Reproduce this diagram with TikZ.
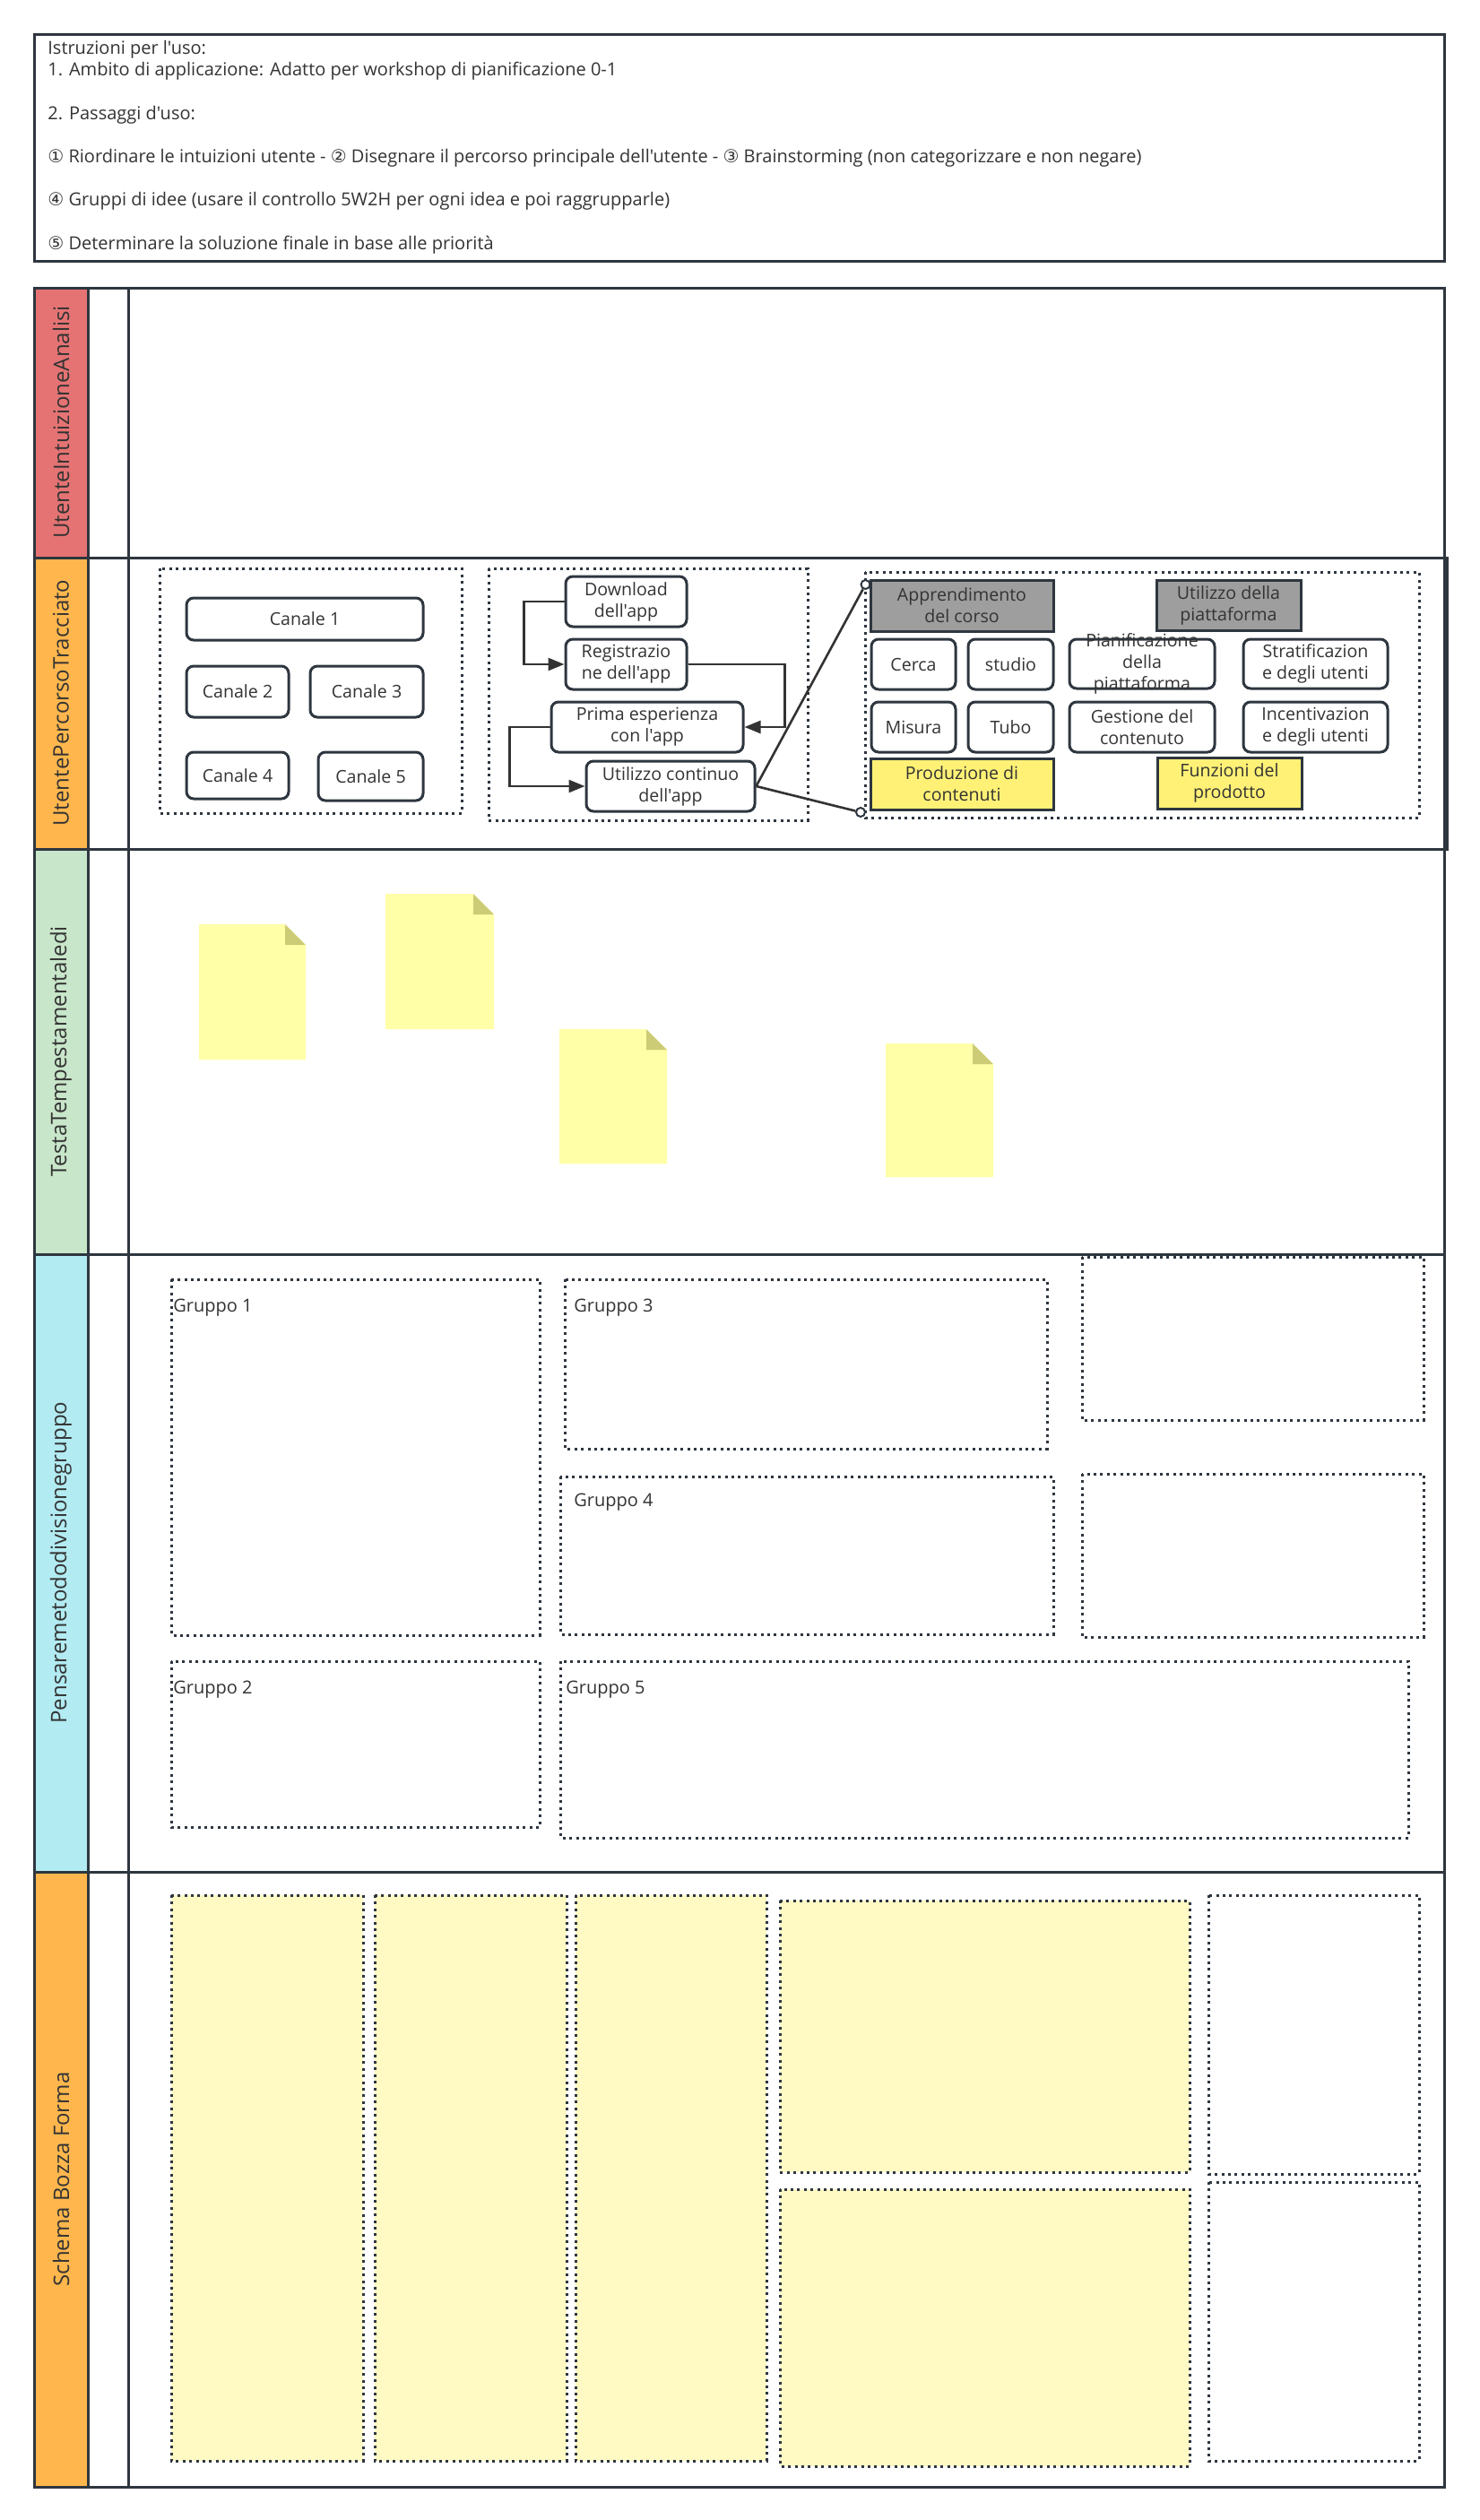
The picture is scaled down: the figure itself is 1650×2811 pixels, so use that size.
\documentclass[tikz,border=0pt]{standalone}
\usepackage{fontspec}
\setmainfont{Open Sans}[Ligatures=TeXOff]
\newfontfamily\symfont{DejaVu Sans}
\usetikzlibrary{arrows.meta,positioning}

\definecolor{linedark}{HTML}{2E363F}
\definecolor{textdark}{HTML}{333333}
\definecolor{lanered}{HTML}{E57373}
\definecolor{laneorange}{HTML}{FFB74D}
\definecolor{lanegreen}{HTML}{C8E6C9}
\definecolor{lanecyan}{HTML}{B2EBF2}
\definecolor{boxgray}{HTML}{9E9E9E}
\definecolor{boxyellow}{HTML}{FFF176}
\definecolor{notefill}{HTML}{FFFFA8}
\definecolor{notefold}{HTML}{CCCC77}
\definecolor{draftfill}{HTML}{FFF9C4}

\tikzset{
  frameline/.style={draw=linedark, line width=1.5pt},
  lanelabel/.style={rotate=90, font=\fontsize{12}{14}\selectfont, text=textdark},
  dotbox/.style={draw=linedark, line width=1.5pt, dash pattern=on 1.5pt off 2.2pt},
  chbox/.style={draw=linedark, line width=1.5pt, rounded corners=4pt, fill=white,
    align=center, font=\fontsize{9.8}{12}\selectfont, text=textdark, inner sep=1pt},
  graybox/.style={chbox, rounded corners=0pt, fill=boxgray},
  yellowbox/.style={chbox, rounded corners=0pt, fill=boxyellow},
  flow/.style={draw=textdark, line width=1.3pt, -{Triangle[length=9pt,width=7pt]}},
  endring/.style={circle, draw=linedark, fill=white, line width=1pt, minimum size=5pt, inner sep=0pt},
  grouplabel/.style={anchor=west, font=\fontsize{10}{12}\selectfont, text=textdark, inner sep=0pt}
}

\begin{document}
\begin{tikzpicture}[x=0.5pt, y=-0.5pt]

    \useasboundingbox (0,0) rectangle (1650,2811);
    \fill[white] (0,0) rectangle (1650,2811);

    % instructions
    \draw[frameline, fill=white] (38,38) rectangle (1611,291);
    \node [anchor=north west, align=left, inner sep=0pt, text=textdark,
           font=\fontsize{10}{12.1}\selectfont] (howto) at (53,45)
      {Istruzioni per l'uso:\\
       1. Ambito di applicazione: Adatto per workshop di pianificazione 0-1\\[12.1pt]
       2. Passaggi d'uso:\\[12.1pt]
       {\symfont ①} Riordinare le intuizioni utente - {\symfont ②} Disegnare il percorso principale dell'utente - {\symfont ③} Brainstorming (non categorizzare e non negare)\\[12.1pt]
       {\symfont ④} Gruppi di idee (usare il controllo 5W2H per ogni idea e poi raggrupparle)\\[12.1pt]
       {\symfont ⑤} Determinare la soluzione finale in base alle priorità};

    % lanes
    \fill[lanered]    (38,321)  rectangle (98,622);
    \fill[laneorange] (38,622)  rectangle (98,947);
    \fill[lanegreen]  (38,947)  rectangle (98,1399);
    \fill[lanecyan]   (38,1399) rectangle (98,2088);
    \fill[laneorange] (38,2088) rectangle (98,2774);

    \draw[frameline] (38,321) rectangle (1611,2774);
    \draw[frameline] (98,321) -- (98,2774);
    \draw[frameline] (143,321) -- (143,2774);
    \draw[frameline] (38,622) -- (1611,622);
    \draw[frameline] (143,622) -- (1614,622) -- (1614,947) -- (143,947);
    \draw[frameline] (38,947) -- (1611,947);
    \draw[frameline] (38,1399) -- (1611,1399);
    \draw[frameline] (38,2088) -- (1611,2088);

    \node [lanelabel] (lane1) at (68,471)  {UtenteIntuizioneAnalisi};
    \node [lanelabel] (lane2) at (68,784)  {UtentePercorsoTracciato};
    \node [lanelabel] (lane3) at (68,1173) {TestaTempestamentaledi};
    \node [lanelabel] (lane4) at (68,1743) {Pensaremetododivisionegruppo};
    \node [lanelabel] (lane5) at (68,2431) {Schema Bozza Forma};

    % user path: channels
    \draw[dotbox] (178,634) rectangle (515,907);
    \node [chbox, minimum width=132pt, minimum height=23.5pt] (ch1) at (340,690.5) {Canale 1};
    \node [chbox, minimum width=57pt, minimum height=28.5pt] (ch2) at (265,771.5) {Canale 2};
    \node [chbox, minimum width=63pt, minimum height=28.5pt] (ch3) at (409,771.5) {Canale 3};
    \node [chbox, minimum width=57pt, minimum height=26pt] (ch4) at (265,865) {Canale 4};
    \node [chbox, minimum width=58.5pt, minimum height=27pt] (ch5) at (413.5,866) {Canale 5};

    % user path: app steps
    \draw[dotbox] (545,634) rectangle (901,915);
    \node [chbox, minimum width=67.5pt, minimum height=28pt] (dl) at (698.5,671) {Download\\dell'app};
    \node [chbox, minimum width=67.5pt, minimum height=28pt] (reg) at (698.5,741) {Registrazio\\ne dell'app};
    \node [chbox, minimum width=107pt, minimum height=28pt] (first) at (722,811) {Prima esperienza\\con l'app};
    \node [chbox, minimum width=94pt, minimum height=28pt] (use) at (748,877) {Utilizzo continuo\\dell'app};

    \draw[flow] (dl.west) -- ++(-45,0) |- (reg.west);
    \draw[flow] (reg.east) -- ++(108,0) |- (first.east);
    \draw[flow] (first.west) -- ++(-45,0) |- (use.west);

    % user path: functions
    \draw[dotbox] (965,638) rectangle (1583,912);
    \node [graybox, minimum width=102pt, minimum height=28.5pt] (learn) at (1073,675.5) {Apprendimento\\del corso};
    \node [graybox, minimum width=80.5pt, minimum height=28pt] (platform) at (1370.5,675) {Utilizzo della\\piattaforma};
    \node [chbox, minimum width=47pt, minimum height=28pt] (search) at (1019,741) {Cerca};
    \node [chbox, minimum width=47.5pt, minimum height=28pt] (study) at (1127.5,741) {studio};
    \node [chbox, minimum width=81pt, minimum height=27.5pt] (plan) at (1274,740.5) {};
    \node [align=center, font=\fontsize{9.8}{12}\selectfont, text=textdark] (plantext) at (plan) {Pianificazione\\della\\piattaforma};
    \node [chbox, minimum width=80.5pt, minimum height=27.5pt] (layer) at (1467.5,740.5) {Stratificazion\\e degli utenti};
    \node [chbox, minimum width=47pt, minimum height=28pt] (measure) at (1019,811) {Misura};
    \node [chbox, minimum width=47.5pt, minimum height=28pt] (tube) at (1127.5,811) {Tubo};
    \node [chbox, minimum width=81pt, minimum height=28pt] (manage) at (1274,811) {Gestione del\\contenuto};
    \node [chbox, minimum width=80.5pt, minimum height=28pt] (reward) at (1467.5,811) {Incentivazion\\e degli utenti};
    \node [yellowbox, minimum width=102pt, minimum height=28.5pt] (produce) at (1073,874.5) {Produzione di\\contenuti};
    \node [yellowbox, minimum width=80.5pt, minimum height=28.5pt] (features) at (1371.5,873.5) {Funzioni del\\prodotto};

    \node [endring] (ringtop) at (965.5,652) {};
    \node [endring] (ringbot) at (960,906) {};
    \draw[draw=textdark, line width=1.3pt] (use.east) -- (ringtop);
    \draw[draw=textdark, line width=1.3pt] (use.east) -- (ringbot);

    % brainstorming notes
    \fill[notefill] (222,1031) -- (318,1031) -- (341,1054) -- (341,1182) -- (222,1182) -- cycle;
    \fill[notefold] (318,1031) -- (341,1054) -- (318,1054) -- cycle;
    \fill[notefill] (430,997) -- (528,997) -- (551,1020) -- (551,1148) -- (430,1148) -- cycle;
    \fill[notefold] (528,997) -- (551,1020) -- (528,1020) -- cycle;
    \fill[notefill] (624,1148) -- (721,1148) -- (744,1171) -- (744,1298) -- (624,1298) -- cycle;
    \fill[notefold] (721,1148) -- (744,1171) -- (721,1171) -- cycle;
    \fill[notefill] (988,1164) -- (1085,1164) -- (1108,1187) -- (1108,1313) -- (988,1313) -- cycle;
    \fill[notefold] (1085,1164) -- (1108,1187) -- (1085,1187) -- cycle;

    % groups
    \draw[dotbox] (191,1427) rectangle (602,1824);
    \draw[dotbox] (630,1427) rectangle (1168,1616);
    \draw[dotbox] (1207,1402) rectangle (1588,1584);
    \draw[dotbox] (625,1647) rectangle (1175,1823);
    \draw[dotbox] (1207,1644) rectangle (1588,1826);
    \draw[dotbox] (191,1853) rectangle (602,2038);
    \draw[dotbox] (625,1853) rectangle (1571,2050);
    \node [grouplabel] (grp1) at (193,1459) {Gruppo 1};
    \node [grouplabel] (grp3) at (640,1459) {Gruppo 3};
    \node [grouplabel] (grp4) at (640,1676) {Gruppo 4};
    \node [grouplabel] (grp2) at (193,1885) {Gruppo 2};
    \node [grouplabel] (grp5) at (631,1885) {Gruppo 5};

    % draft layout
    \draw[dotbox, fill=draftfill] (191,2114) rectangle (405,2745);
    \draw[dotbox, fill=draftfill] (418,2114) rectangle (632,2745);
    \draw[dotbox, fill=draftfill] (642,2114) rectangle (855,2745);
    \draw[dotbox, fill=draftfill] (870,2120) rectangle (1327,2423);
    \draw[dotbox, fill=draftfill] (870,2442) rectangle (1327,2751);
    \draw[dotbox] (1348,2114) rectangle (1583,2425);
    \draw[dotbox] (1348,2434) rectangle (1583,2745);

\end{tikzpicture}
\end{document}
